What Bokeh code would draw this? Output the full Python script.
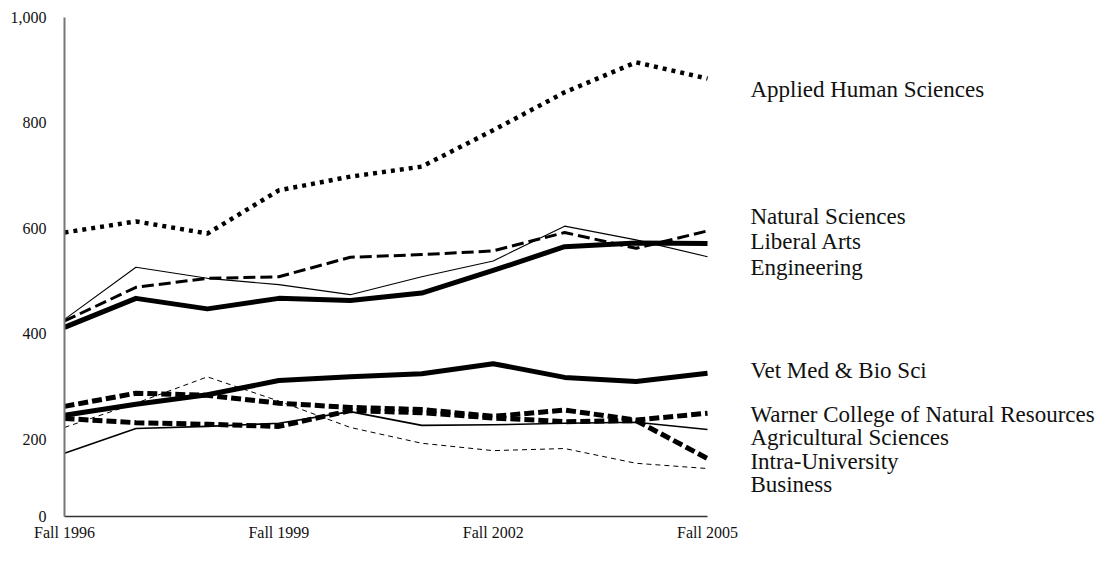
from bokeh.plotting import figure
from bokeh.models import FixedTicker, ColumnDataSource, Range1d
from bokeh.core.properties import value
from bokeh.embed import file_html
from bokeh.resources import INLINE

years = [1996, 1997, 1998, 1999, 2000, 2001, 2002, 2003, 2004, 2005]
applied_human = [592, 613, 590, 672, 698, 717, 786, 858, 915, 884]
natural_sci = [424, 488, 505, 508, 545, 550, 557, 592, 562, 595]
liberal_arts = [412, 467, 447, 467, 463, 477, 520, 565, 572, 571]
engineering = [427, 526, 505, 493, 474, 508, 538, 604, 578, 546]
vet_med = [245, 266, 284, 311, 318, 324, 343, 317, 309, 325]
warner = [262, 287, 283, 268, 260, 256, 243, 255, 236, 249]
agricultural = [173, 220, 224, 230, 252, 226, 227, 230, 232, 218]
intra_univ = [239, 231, 228, 224, 254, 250, 240, 233, 235, 163]
business = [222, 268, 318, 272, 222, 192, 178, 182, 154, 144]

x_ticks = [1996, 1999, 2002, 2005]
x_tick_labels = ["Fall 1996", "Fall 1999", "Fall 2002", "Fall 2005"]
y_ticks = [200, 400, 600, 800, 1000]
y_tick_labels = ["200", "400", "600", "800", "1,000"]

label_names = ["Applied Human Sciences", "Natural Sciences", "Liberal Arts", "Engineering",
               "Vet Med & Bio Sci", "Warner College of Natural Resources",
               "Agricultural Sciences", "Intra-University", "Business"]
label_y = [864, 623, 575, 526, 331, 246, 203, 157, 114]

Y_BOTTOM = 53
X_LABEL = 2005.6

SERIF = "Liberation Serif"

p = figure(width=1105, height=560, output_backend="svg", toolbar_location=None,
           x_range=Range1d(1996, 2010.57), y_range=Range1d(Y_BOTTOM, 1000),
           min_border_left=64, min_border_right=0, min_border_top=17, min_border_bottom=44)
p.outline_line_color = None
p.xgrid.visible = False
p.ygrid.visible = False
p.background_fill_color = "white"
p.border_fill_color = "white"

series = [
    (applied_human, dict(line_width=4.5, line_dash="4 5")),
    (natural_sci, dict(line_width=3, line_dash="12 5")),
    (liberal_arts, dict(line_width=5)),
    (engineering, dict(line_width=1.1)),
    (vet_med, dict(line_width=5)),
    (warner, dict(line_width=5, line_dash="10 4")),
    (agricultural, dict(line_width=1.6)),
    (intra_univ, dict(line_width=5, line_dash="10 4")),
    (business, dict(line_width=1, line_dash="5 4")),
]
for vals, style in series:
    src = ColumnDataSource(dict(x=years, y=vals))
    p.line("x", "y", source=src, line_color="black", line_join="round", **style)

p.text(x=[X_LABEL] * len(label_names), y=label_y, text=label_names,
       text_font=value(SERIF), text_font_size="23px", text_color="#111111",
       text_align="left", text_baseline="middle")

xa = p.xaxis[0]
xa.ticker = FixedTicker(ticks=x_ticks)
xa.major_label_overrides = {t: l for t, l in zip(x_ticks, x_tick_labels)}
xa.bounds = (1996, 2005)
xa.axis_line_color = "#333333"
xa.axis_line_width = 1.5
xa.major_tick_line_color = None
xa.minor_tick_line_color = None
xa.major_label_text_font = SERIF
xa.major_label_text_font_size = "16px"
xa.major_label_text_color = "#111111"
xa.major_label_standoff = 1

ya = p.yaxis[0]
ya.ticker = FixedTicker(ticks=[Y_BOTTOM] + y_ticks)
overrides = {t: l for t, l in zip(y_ticks, y_tick_labels)}
overrides[Y_BOTTOM] = "0"
ya.major_label_overrides = overrides
ya.bounds = (Y_BOTTOM, 1000)
ya.axis_line_color = "#777777"
ya.axis_line_width = 2
ya.major_tick_line_color = None
ya.minor_tick_line_color = None
ya.major_label_text_font = SERIF
ya.major_label_text_font_size = "16px"
ya.major_label_text_color = "#111111"
ya.major_label_standoff = 12

open("out.html", "w").write(file_html(p, INLINE))
